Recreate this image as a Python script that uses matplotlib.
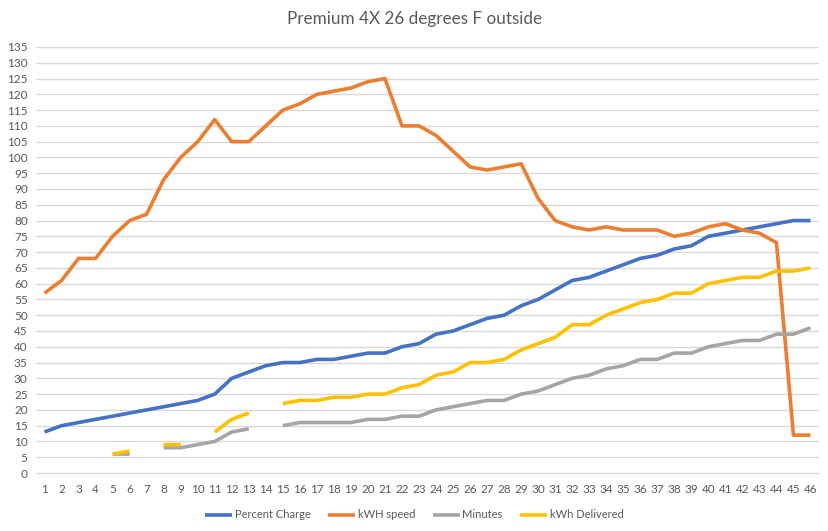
import numpy as np
import matplotlib
matplotlib.use("Agg")
import matplotlib.pyplot as plt

nan = np.nan
categories = list(range(1, 47))
percent_charge = [13, 15, 16, 17, 18, 19, 20, 21, 22, 23, 25, 30, 32, 34, 35, 35, 36, 36, 37, 38,
                  38, 40, 41, 44, 45, 47, 49, 50, 53, 55, 58, 61, 62, 64, 66, 68, 69, 71, 72, 75,
                  76, 77, 78, 79, 80, 80]
kwh_speed = [57, 61, 68, 68, 75, 80, 82, 93, 100, 105, 112, 105, 105, 110, 115, 117, 120, 121, 122, 124,
             125, 110, 110, 107, 102, 97, 96, 97, 98, 87, 80, 78, 77, 78, 77, 77, 77, 75, 76, 78,
             79, 77, 76, 73, 12, 12]
minutes = [nan, nan, nan, nan, 6, 6, nan, 8, 8, 9, 10, 13, 14, nan, 15, 16, 16, 16, 16, 17,
           17, 18, 18, 20, 21, 22, 23, 23, 25, 26, 28, 30, 31, 33, 34, 36, 36, 38, 38, 40,
           41, 42, 42, 44, 44, 46]
kwh_delivered = [nan, nan, nan, nan, 6, 7, nan, 9, 9, nan, 13, 17, 19, nan, 22, 23, 23, 24, 24, 25,
                 25, 27, 28, 31, 32, 35, 35, 36, 39, 41, 43, 47, 47, 50, 52, 54, 55, 57, 57, 60,
                 61, 62, 62, 64, 64, 65]
series_names = ["Percent Charge", "kWH speed", "Minutes", "kWh Delivered"]
title = "Premium 4X 26 degrees F outside"

colors = ["#4472C4", "#ED7D31", "#A5A5A5", "#FFC000"]
plt.rcParams['font.family'] = ['Lato', 'DejaVu Sans']

fig = plt.figure(figsize=(8.29, 5.31), dpi=100)
ax = fig.add_axes([36/829, 1-473/531, (819-36)/829, (473-47)/531])

x = np.array(categories)
for vals, name, c in zip([percent_charge, kwh_speed, minutes, kwh_delivered], series_names, colors):
    ax.plot(x, vals, color=c, lw=2.6, label=name, solid_capstyle='butt', solid_joinstyle='round')

ax.set_xlim(0.5, 46.5)
ax.set_ylim(0, 135)
ax.set_yticks(np.arange(0, 136, 5))
ax.set_xticks(x)
ax.grid(axis='y', color='#D9D9D9', lw=1)
ax.set_axisbelow(True)
for s in ['top', 'right', 'left']:
    ax.spines[s].set_visible(False)
ax.spines['bottom'].set_color('#D9D9D9')
ax.tick_params(axis='both', length=0, labelsize=8.5, colors='#595959')
ax.tick_params(axis='x', pad=8)
ax.tick_params(axis='y', pad=6)

fig.text(0.5, 1-19/531, title, ha='center', va='center', fontsize=12.3, color='#595959')
fig.legend(loc='center', bbox_to_anchor=(0.5, 1-515/531), ncol=4, frameon=False,
           fontsize=8, labelcolor='#595959', handlelength=2.4, handletextpad=0.25,
           columnspacing=1.6)

fig.savefig("out.png", dpi=100)
